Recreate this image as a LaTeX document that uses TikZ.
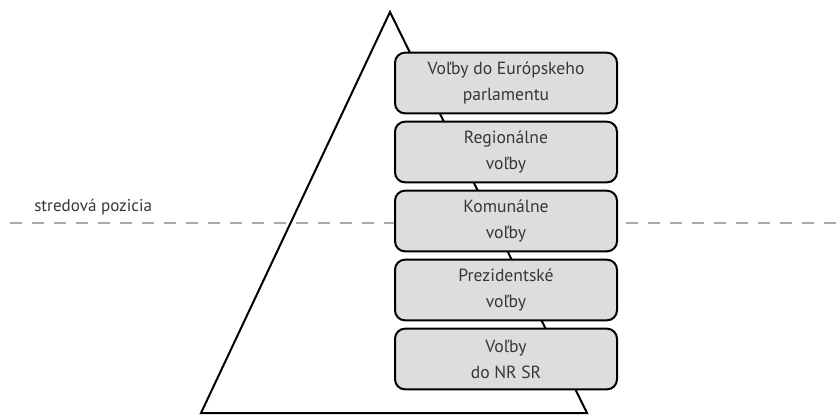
\documentclass[tikz,border=0pt]{standalone}
\usepackage{fontspec}
\setmainfont{PT Sans}
\begin{document}
\begin{tikzpicture}[x=0.75pt,y=-0.75pt,
  box/.style={draw=black,line width=1.5pt,fill=boxgray,rounded corners=7.5pt,
    minimum width=166.5pt,minimum height=45.5pt,align=center,inner sep=0pt,
    text=textgray,font=\fontsize{13.2}{19.5}\selectfont},
  midline/.style={draw=dashgray,line width=1.9pt,dash pattern=on 9pt off 7.5pt}]
\definecolor{boxgray}{RGB}{221,221,221}
\definecolor{textgray}{RGB}{55,55,55}
\definecolor{dashgray}{RGB}{170,170,170}
\useasboundingbox (0,0) rectangle (840,419);
\coordinate (apex) at (390,12);
\coordinate (bl) at (201,413);
\coordinate (br) at (587,413);
\draw[line width=1.5pt,line join=miter] (apex) -- (br) -- (bl) -- cycle;
\coordinate (dl) at (10,223);
\coordinate (dr) at (840,223);
\draw[midline] (dl) -- (dr);
\node[anchor=west,text=textgray,font=\fontsize{12.8}{17}\selectfont,inner sep=0pt] (lbl) at (34,207) {stredová pozicia};
\node[box] (b1) at (506,83) {Voľby do Európskeho\\parlamentu};
\node[box] (b2) at (506,152) {Regionálne\\voľby};
\node[box] (b3) at (506,221) {Komunálne\\voľby};
\node[box] (b4) at (506,290) {Prezidentské\\voľby};
\node[box] (b5) at (506,359) {Voľby\\do NR SR};
\end{tikzpicture}
\end{document}
